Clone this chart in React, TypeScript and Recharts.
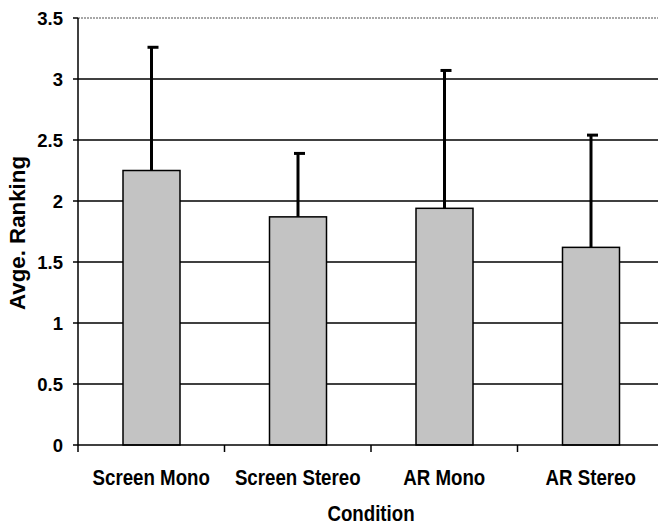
import { BarChart, Bar, XAxis, YAxis, CartesianGrid, ReferenceLine } from 'recharts';

const conditions = ['Screen Mono', 'Screen Stereo', 'AR Mono', 'AR Stereo'];
const avgRanking = [2.25, 1.87, 1.94, 1.62];
const stdDev = [1.01, 0.52, 1.13, 0.92];
const yTicks = [0, 0.5, 1, 1.5, 2, 2.5, 3, 3.5];

const data = conditions.map((c, i) => ({ condition: c, ranking: avgRanking[i], err: stdDev[i] }));

const font = '"Liberation Sans", Arial, sans-serif';
// narrow-looking bold text, squeezed along its reading direction
const squeeze = 0.85;

// bar with an upward-only error line and a cap
const BarWithError = (props: any) => {
  const { x, y, width, height, payload } = props;
  const perUnit = height / payload.ranking;
  const topY = y - payload.err * perUnit;
  const cx = x + width / 2;
  return (
    <g>
      <rect x={x} y={y} width={width} height={height} fill="#c3c3c3" stroke="#000" strokeWidth={1.5} />
      <line x1={cx} y1={y} x2={cx} y2={topY} stroke="#000" strokeWidth={3} />
      <line x1={cx - 4} y1={topY} x2={cx + 7} y2={topY} stroke="#000" strokeWidth={3} />
    </g>
  );
};

const CategoryTick = (props: any) => {
  const { x, y, payload } = props;
  const half = payload.offset ?? 0;
  return (
    <g>
      <line x1={x - half} y1={y - 5} x2={x - half} y2={y + 2} stroke="#000" strokeWidth={1.5} />
      <text transform={`translate(${x},${y + 35}) scale(${squeeze},1)`} textAnchor="middle" fontFamily={font} fontWeight="bold" fontSize={22} fill="#000">
        {payload.value}
      </text>
    </g>
  );
};

const XTitle = (props: any) => {
  const { x, y, width, height } = props.viewBox;
  return (
    <text transform={`translate(${x + width / 2},${y + height - 4}) scale(${squeeze},1)`} textAnchor="middle" fontFamily={font} fontWeight="bold" fontSize={22} fill="#000">
      Condition
    </text>
  );
};

const YTitle = (props: any) => {
  const { y, height } = props.viewBox;
  return (
    <text transform={`translate(25,${y + height / 2 + 1.5}) rotate(-90) scale(0.97,1)`} textAnchor="middle" fontFamily={font} fontWeight="bold" fontSize={23} fill="#000">
      Avge. Ranking
    </text>
  );
};

export default function App() {
  return (
    <div style={{ position: 'absolute', left: 0, top: 0, width: 658, height: 525, overflow: 'hidden', background: '#fff' }}>
      <BarChart width={672} height={525} data={data} margin={{ top: 18, right: 8, left: 0, bottom: 0 }}>
        <CartesianGrid vertical={false} horizontalValues={[0.5, 1, 1.5, 2, 2.5, 3]} stroke="#000" strokeWidth={1.3} />
        <ReferenceLine y={3.5} stroke="#8a8a8a" strokeDasharray="2 1" strokeWidth={1.5} />
        <XAxis
          dataKey="condition"
          height={80}
          stroke="#000"
          strokeWidth={1.5}
          tickLine={false}
          tickSize={5}
          tickMargin={0}
          tick={<CategoryTick />}
          label={<XTitle />}
        />
        <YAxis
          width={78}
          domain={[0, 3.5]}
          ticks={yTicks}
          interval={0}
          stroke="#000"
          strokeWidth={1.5}
          tickSize={5}
          tickMargin={10}
          tick={{ fontFamily: font, fontWeight: 'bold', fontSize: 18.5, fill: '#000' }}
          label={<YTitle />}
        />
        <Bar dataKey="ranking" barSize={57} shape={<BarWithError />} isAnimationActive={false} />
      </BarChart>
    </div>
  );
}
